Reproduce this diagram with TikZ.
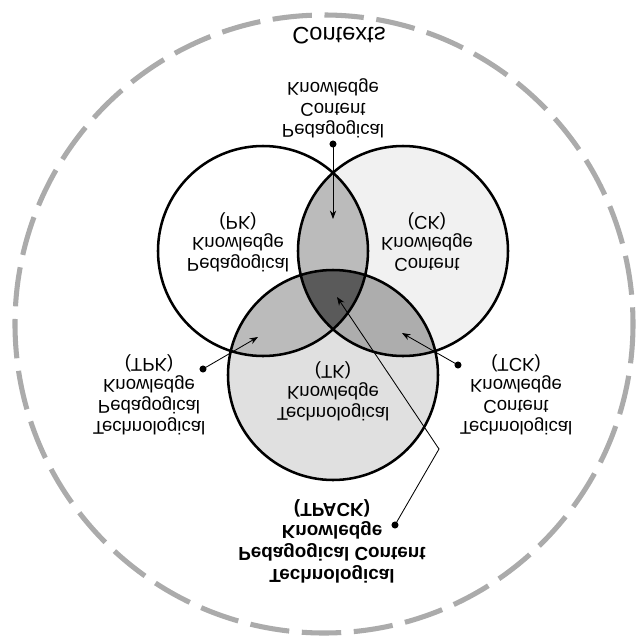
\documentclass[tikz,border=0pt]{standalone}
\usepackage{fontspec}
\setmainfont{Liberation Sans}
\usetikzlibrary{arrows.meta}

\definecolor{ck_fill}{HTML}{F1F1F1}
\definecolor{tk_fill}{HTML}{E0E0E0}
\definecolor{pair_fill}{HTML}{BBBBBB}
\definecolor{tck_fill}{HTML}{ADADAD}
\definecolor{core_fill}{HTML}{5A5A5A}
\definecolor{context_gray}{HTML}{ABABAB}

\begin{document}
\begin{tikzpicture}[
    x=0.025cm, y=-0.025cm,
    % Chu lat nguoc (phan chieu doc)
    flip_text/.style = {align=center, yscale=-1, inner sep=0pt, font=\fontsize{13.2}{14.9}\selectfont},
    bold_text/.style = {flip_text, font=\fontsize{13.4}{15.6}\selectfont\bfseries},
    ring/.style = {draw=black, line width=1.8pt},
    dot/.style = {circle, fill=black, inner sep=0pt, minimum size=5pt},
    pointer/.style = {-{Stealth[length=6pt, width=4.5pt]}, line width=0.6pt}
]
\useasboundingbox (0,0) rectangle (638,639);

% --- Tam cac vong tron ---
\coordinate (pk_c) at (263,251);
\coordinate (ck_c) at (403,251);
\coordinate (tk_c) at (333,375);
\def\rad{105}

% --- To mau cac vung ---
\fill[white] (pk_c) circle[radius=\rad];
\fill[ck_fill] (ck_c) circle[radius=\rad];
\fill[tk_fill] (tk_c) circle[radius=\rad];
\begin{scope}
    \clip (pk_c) circle[radius=\rad];
    \fill[pair_fill] (ck_c) circle[radius=\rad];
    \fill[pair_fill] (tk_c) circle[radius=\rad];
\end{scope}
\begin{scope}
    \clip (ck_c) circle[radius=\rad];
    \fill[tck_fill] (tk_c) circle[radius=\rad];
\end{scope}
\begin{scope}
    \clip (pk_c) circle[radius=\rad];
    \clip (ck_c) circle[radius=\rad];
    \fill[core_fill] (tk_c) circle[radius=\rad];
\end{scope}

% --- Vien cac vong tron ---
\draw[ring] (pk_c) circle[radius=\rad];
\draw[ring] (ck_c) circle[radius=\rad];
\draw[ring] (tk_c) circle[radius=\rad];

% --- Vong boi canh (net dut) ---
\draw[context_gray, line width=3.6pt, dash pattern=on 28pt off 9pt] (324,324) circle[radius=309];
\node[flip_text, font=\fontsize{16.8}{20}\selectfont] (contexts) at (339,36) {Contexts};

% --- Nhan ben trong ---
\node[flip_text] (pk_label) at (238,242) {Pedagogical\\Knowledge\\(PK)};
\node[flip_text] (ck_label) at (427,242) {Content\\Knowledge\\(CK)};
\node[flip_text] (tk_label) at (333,391) {Technological\\Knowledge\\(TK)};

% --- Nhan ben ngoai ---
\node[flip_text] (pck_label) at (333,108) {Pedagogical\\Content\\Knowledge};
\node[flip_text] (tpk_label) at (149,395) {Technological\\Pedagogical\\Knowledge\\(TPK)};
\node[flip_text] (tck_label) at (516,395) {Technological\\Content\\Knowledge\\(TCK)};
\node[bold_text] (tpack_label) at (332,541) {Technological\\Pedagogical Content\\Knowledge\\(TPACK)};

% --- Cham va mui ten ---
\node[dot] (pck_dot) at (333,144) {};
\node[dot] (tpk_dot) at (203,369) {};
\node[dot] (tck_dot) at (458,365) {};
\node[dot] (tpack_dot) at (395,525) {};
\coordinate (pck_tip) at (333,219);
\coordinate (tpk_tip) at (258,337);
\coordinate (tck_tip) at (402,333);
\coordinate (tpack_bend) at (439,449);
\coordinate (tpack_tip) at (337,297);

\draw[pointer] (pck_dot.center) -- (pck_tip);
\draw[pointer] (tpk_dot.center) -- (tpk_tip);
\draw[pointer] (tck_dot.center) -- (tck_tip);
\draw[pointer] (tpack_dot.center) -- (tpack_bend) -- (tpack_tip);

\end{tikzpicture}
\end{document}
